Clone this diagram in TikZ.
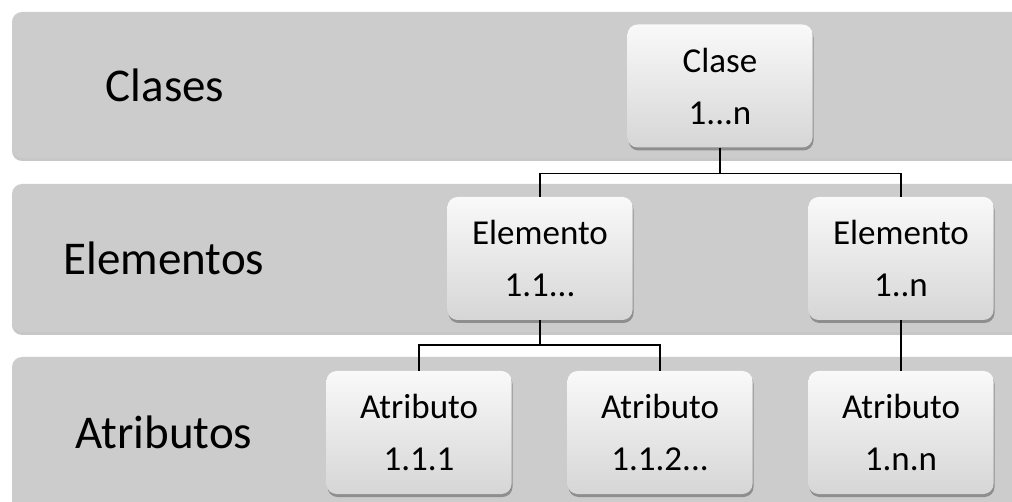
\documentclass[tikz,border=0pt]{standalone}
\usepackage{fontspec}
\setmainfont{Carlito}
\usetikzlibrary{shadows}
\definecolor{bandgray}{RGB}{204,204,204}
\definecolor{boxtop}{RGB}{249,249,249}
\definecolor{boxbot}{RGB}{214,214,214}
\tikzset{
  band/.style={fill=bandgray, rounded corners=10pt,
    drop shadow={shadow xshift=0pt, shadow yshift=-3pt, opacity=0.22, fill=black}},
  bandlabel/.style={inner sep=0pt, font=\fontsize{47}{50}\selectfont},
  box/.style={rectangle, rounded corners=10pt, minimum width=185pt, minimum height=123pt,
    top color=boxtop, bottom color=boxbot, draw=none, align=center, inner sep=0pt,
    font=\fontsize{35}{52}\selectfont,
    drop shadow={shadow xshift=1pt, shadow yshift=-3pt, opacity=0.3, fill=black}},
  link/.style={draw=black, line width=1.6pt}
}
\begin{document}
\begin{tikzpicture}[x=1pt,y=-1pt]
\useasboundingbox (0,0) rectangle (1012,502);
\clip (0,0) rectangle (1012,502);
\fill[white] (0,0) rectangle (1012,502);
% bands
\path[band] (12,12) rectangle (1045,158);
\path[band] (12,184) rectangle (1045,332);
\path[band] (12,357) rectangle (1045,510);
% band labels
\node[bandlabel] (lclases) at (165,85) {Clases};
\node[bandlabel] (lelem) at (164,258) {Elementos};
\node[bandlabel] (latr) at (164,432) {Atributos};
% boxes
\node[box] (clase) at (720,86) {Clase\\1...n};
\node[box] (e11) at (540,258.5) {Elemento\\1.1...};
\node[box] (e1n) at (901,258.5) {Elemento\\1..n};
\node[box] (a111) at (419,432.5) {Atributo\\1.1.1};
\node[box] (a112) at (660,432.5) {Atributo\\1.1.2...};
\node[box] (a1nn) at (901,432.5) {Atributo\\1.n.n};
% connectors
\draw[link] (clase.south) -- ++(0,26) -| (e11.north);
\draw[link] (clase.south) -- ++(0,26) -| (e1n.north);
\draw[link] (e11.south) -- ++(0,25) -| (a111.north);
\draw[link] (e11.south) -- ++(0,25) -| (a112.north);
\draw[link] (e1n.south) -- (a1nn.north);
\end{tikzpicture}
\end{document}
